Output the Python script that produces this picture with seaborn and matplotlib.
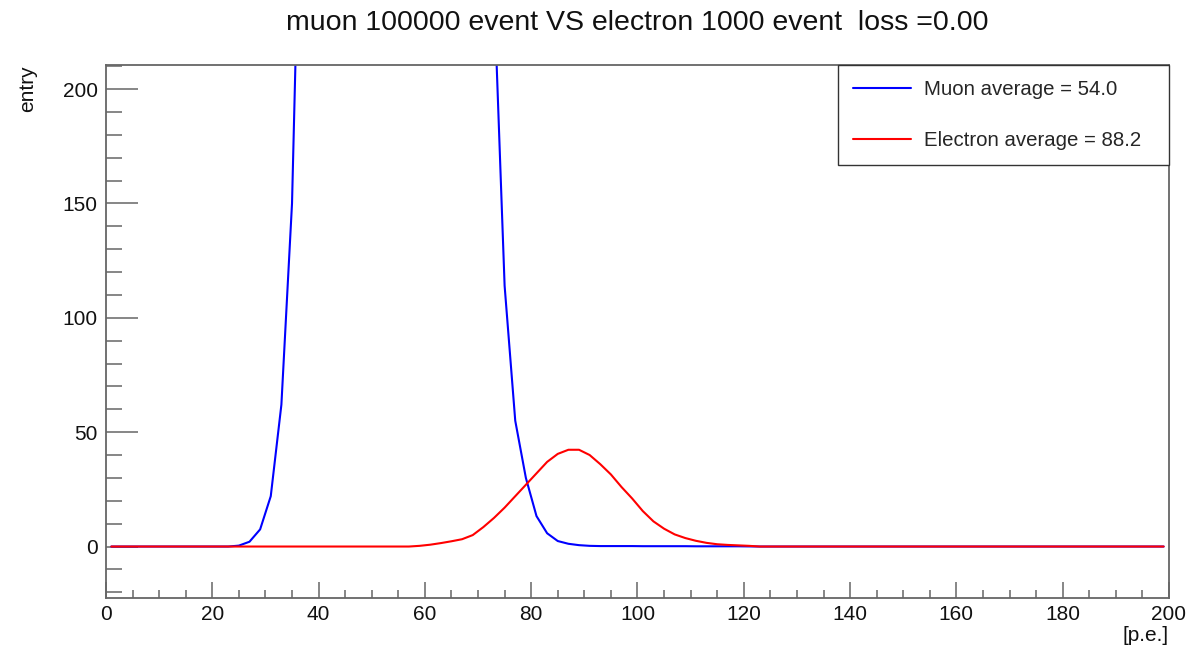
import numpy as np
import pandas as pd
import matplotlib
matplotlib.use("Agg")
import matplotlib.pyplot as plt
from matplotlib.ticker import MultipleLocator
import seaborn as sns

# Histogram binning: 100 bins of width 2 p.e. over [0, 200]
bin_edges = np.arange(0, 202, 2)
bin_centers = 0.5 * (bin_edges[:-1] + bin_edges[1:])

# Muon spectrum (100000 events), non-empty bins starting at centre 25 p.e.
muon_first_center = 25
muon_counts = [
    0.4, 2.1, 7.5, 22, 62, 150, 340, 690, 1300, 2200,
    3400, 4600, 5600, 6200, 6400, 6100, 5400, 4500, 3500, 2550,
    1750, 1120, 690, 420, 243, 114, 55, 30, 13.3, 5.8,
    2.4, 1.2, 0.6, 0.3, 0.2, 0.2, 0.2, 0.2, 0.15, 0.15,
    0.15, 0.15, 0.15, 0.1, 0.1, 0.1, 0.1, 0.1, 0.05,
]

# Electron spectrum (1000 events), non-empty bins starting at centre 59 p.e.
electron_first_center = 59
electron_counts = [
    0.3, 0.8, 1.5, 2.3, 3.2, 5.0, 8.5, 12.5, 17, 22,
    27, 32, 37, 40.5, 42.3, 42.3, 40, 36, 31.5, 26,
    21, 15.5, 11, 7.8, 5.3, 3.7, 2.5, 1.6, 1.0, 0.7,
    0.5, 0.3,
]

title_text = "muon 100000 event VS electron 1000 event  loss =0.00"
muon_label = "Muon average = 54.0"
electron_label = "Electron average = 88.2"
x_title = "[p.e.]"
y_title = "entry"


def fill_bins(first_center, counts):
    full = np.zeros_like(bin_centers)
    start = int(np.searchsorted(bin_centers, first_center))
    full[start:start + len(counts)] = counts
    return full


df = pd.DataFrame({
    "pe": np.concatenate([bin_centers, bin_centers]),
    "entry": np.concatenate([fill_bins(muon_first_center, muon_counts),
                             fill_bins(electron_first_center, electron_counts)]),
    "sample": [muon_label] * len(bin_centers) + [electron_label] * len(bin_centers),
})

sns.set_theme(style="ticks")
plt.rcParams["font.family"] = ["Liberation Sans", "DejaVu Sans"]

fig = plt.figure(figsize=(11.91, 6.5), dpi=100)
ax = fig.add_axes([0.089, 0.080, 0.8925, 0.820])

sns.lineplot(data=df, x="pe", y="entry", hue="sample",
             palette={muon_label: "#0000ff", electron_label: "#ff0000"},
             linewidth=1.5, ax=ax, legend=True, estimator=None, sort=False)

ax.set_xlim(0, 200)
ax.set_ylim(-22.5, 210.5)

frame_col = "#666666"
for side in ["left", "right", "top", "bottom"]:
    ax.spines[side].set_visible(True)
    ax.spines[side].set_color(frame_col)
    ax.spines[side].set_linewidth(1.3)

ax.xaxis.set_major_locator(MultipleLocator(20))
ax.xaxis.set_minor_locator(MultipleLocator(5))
ax.yaxis.set_major_locator(MultipleLocator(50))
ax.yaxis.set_minor_locator(MultipleLocator(10))

ax.tick_params(axis="both", which="both", direction="in", color=frame_col,
               width=1.1, labelsize=15, labelcolor="#111111",
               top=False, right=False)
ax.tick_params(axis="x", which="major", length=11.5, pad=5)
ax.tick_params(axis="x", which="minor", length=5.8)
ax.tick_params(axis="y", which="major", length=23, pad=6)
ax.tick_params(axis="y", which="minor", length=11.5)

ax.set_xlabel("")
ax.set_ylabel("")
ax.text(1.0, -0.052, x_title, transform=ax.transAxes, ha="right", va="top",
        fontsize=15, color="#111111")
ax.text(-0.074, 1.0, y_title, transform=ax.transAxes, rotation=90,
        ha="center", va="top", fontsize=15, color="#111111")

ax.set_title(title_text, fontsize=20.5, y=1.078, va="center", pad=0,
             color="#111111")

handles, labels = ax.get_legend_handles_labels()
leg = ax.legend(handles, labels, loc="upper left",
                bbox_to_anchor=(0.6886, 0.0, 0.3114, 1.0), mode="expand",
                borderaxespad=0, frameon=True, fancybox=False, shadow=False,
                fontsize=14.7, handlelength=2.85, handletextpad=0.6,
                labelspacing=1.55, borderpad=0.75)
leg.get_frame().set_edgecolor("#333333")
leg.get_frame().set_linewidth(1.0)
leg.get_frame().set_alpha(1.0)
for line in leg.get_lines():
    line.set_linewidth(1.5)

fig.savefig("out.png", dpi=100, facecolor="white")
